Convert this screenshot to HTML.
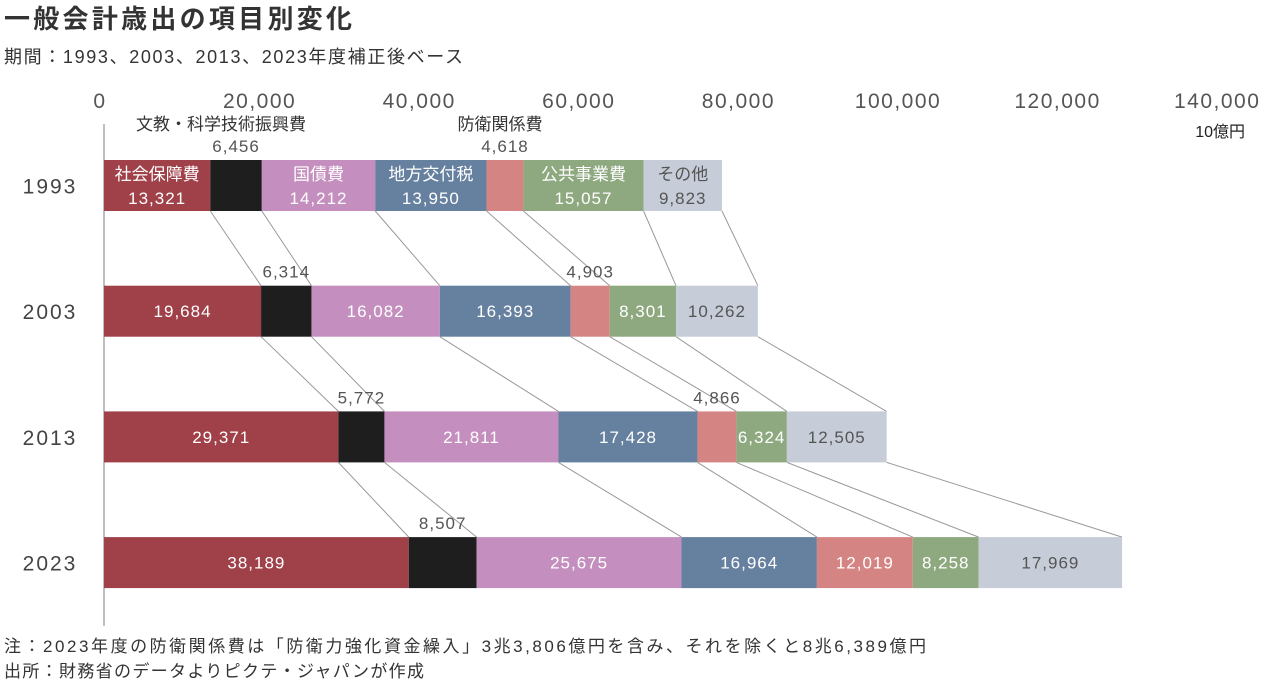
<!DOCTYPE html>
<html><head><meta charset="utf-8"><style>
body{margin:0;width:1273px;height:685px;background:#fff;overflow:hidden;font-family:"Liberation Sans","Noto Sans CJK JP",sans-serif;}
</style></head><body>
<svg id="c" width="1273" height="685" xmlns="http://www.w3.org/2000/svg">
<text x="4" y="28" font-size="26" font-weight="bold" fill="#333" textLength="348" font-family="Liberation Sans, Noto Sans CJK JP, sans-serif">一般会計歳出の項目別変化</text>
<text x="4" y="63" font-size="18" fill="#333" textLength="459" font-family="Liberation Sans, Noto Sans CJK JP, sans-serif">期間：1993、2003、2013、2023年度補正後ベース</text>
<text x="1245" y="137" font-size="16" fill="#222" text-anchor="end" font-family="Liberation Sans, Noto Sans CJK JP, sans-serif">10億円</text>
<text x="4" y="652" font-size="17" fill="#333" textLength="922" font-family="Liberation Sans, Noto Sans CJK JP, sans-serif">注：2023年度の防衛関係費は「防衛力強化資金繰入」3兆3,806億円を含み、それを除くと8兆6,389億円</text>
<text x="4" y="677" font-size="17" fill="#333" textLength="420" font-family="Liberation Sans, Noto Sans CJK JP, sans-serif">出所：財務省のデータよりピクテ・ジャパンが作成</text>
<line x1="104" y1="124" x2="104" y2="626" stroke="#aaa" stroke-width="1.5"/>
<g id="g"></g>
</svg>
<script>
const years = ["1993","2003","2013","2023"];
const categories = ["社会保障費","文教・科学技術振興費","国債費","地方交付税","防衛関係費","公共事業費","その他"];
const v1993 = [13321,6456,14212,13950,4618,15057,9823];
const v2003 = [19684,6314,16082,16393,4903,8301,10262];
const v2013 = [29371,5772,21811,17428,4866,6324,12505];
const v2023 = [38189,8507,25675,16964,12019,8258,17969];
const ticks = [0,20000,40000,60000,80000,100000,120000,140000];
const series = [v1993,v2003,v2013,v2023];
const colors = ["#a0414a","#1e1e1e","#c48fbe","#66809f","#d48583","#8ea87f","#c6cdd8"];
const textColors = ["#fff","#fff","#fff","#fff","#fff","#fff","#555"];
const NS="http://www.w3.org/2000/svg";
const g=document.getElementById('g');
const x=v=>104+v*0.00798;
const barY=i=>160+i*125.7, BH=51;
function mk(t,a){const e=document.createElementNS(NS,t);for(const k in a)e.setAttribute(k,a[k]);g.appendChild(e);return e;}
const fmt=n=>n.toLocaleString('en-US');
ticks.forEach(t=>{
  const e=mk('text',{x:x(t)-4,y:108,'font-size':21,fill:'#555','text-anchor':'middle','letter-spacing':'1.5'});
  
  
  e.textContent=fmt(t);
});
for(let i=0;i<series.length-1;i++){
  let a=0,b=0;
  for(let j=0;j<categories.length;j++){
    a+=series[i][j];b+=series[i+1][j];
    const l=mk('line',{x1:x(a),y1:barY(i)+BH,x2:x(b),y2:barY(i+1),stroke:'#999','stroke-width':1});
    
    
  }
}
series.forEach((vals,i)=>{
  const y=barY(i);
  const yl=mk('text',{x:50,y:y+BH/2+8,'font-size':21,fill:'#444','text-anchor':'middle','letter-spacing':'2'});
  
  
  yl.textContent=years[i];
  let c=0;
  vals.forEach((v,j)=>{
    const x0=x(c),x1=x(c+v);c+=v;
    const r=mk('rect',{x:x0,y:y,width:x1-x0,height:BH,fill:colors[j]});
    
    
    const cx=(x0+x1)/2;
    if(j===1||j===4&&i<3){
      const t=mk('text',{x:cx,y:y-8,'font-size':17,fill:'#555','text-anchor':'middle','letter-spacing':'1'});
      
      
      t.textContent=fmt(v);
    }else{
      const t=mk('text',{x:cx,y:i===0?y+44:y+BH/2+6,'font-size':17,fill:textColors[j],'text-anchor':'middle','letter-spacing':'1'});
      
      
      t.textContent=fmt(v);
      if(i===0){
        const n=mk('text',{x:cx,y:y+20,'font-size':17,fill:textColors[j],'text-anchor':'middle','font-family':'Liberation Sans, Noto Sans CJK JP, sans-serif'});
        
        
        n.textContent=categories[j];
      }
    }
    if(i===0&&(j===1||j===4)){
      const n=mk('text',{x:j===1?cx-15:cx-5,y:y-30,'font-size':17,fill:'#333','text-anchor':'middle','font-family':'Liberation Sans, Noto Sans CJK JP, sans-serif'});
      
      
      n.textContent=categories[j];
    }
  });
});
</script>
</body></html>
